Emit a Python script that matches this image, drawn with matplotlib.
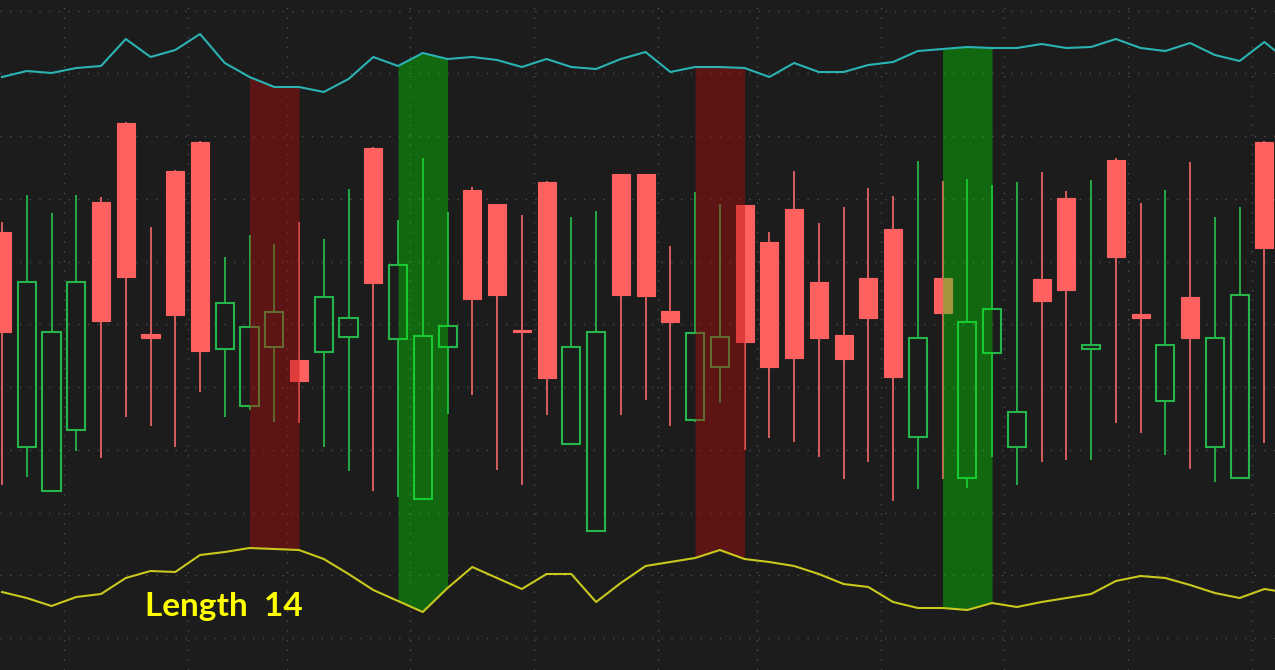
import numpy as np
import matplotlib
matplotlib.use("Agg")
import matplotlib.pyplot as plt

# candle data (price units), one entry per bar
opens = [438, 223, 179, 240, 468, 547, 336, 499, 528, 321, 264, 323, 310, 318, 333, 522, 331, 171,
         323, 480, 466, 340, 488, 226, 139, 496, 496, 359, 250, 303, 465, 428, 461, 388, 335, 392,
         441, 233, 392, 192, 317, 223, 391, 472, 321, 510, 356, 269, 373, 223, 192, 528]
highs = [448, 475, 457, 475, 473, 548, 443, 500, 529, 413, 435, 426, 448, 431, 481, 523, 450, 512,
         458, 483, 466, 455, 489, 453, 459, 496, 496, 424, 478, 466, 465, 438, 499, 447, 463, 482,
         474, 509, 489, 491, 485, 488, 498, 479, 490, 512, 467, 480, 508, 453, 463, 529]
lows = [185, 193, 178, 219, 212, 253, 244, 223, 278, 253, 260, 248, 247, 223, 199, 179, 173, 171,
        256, 275, 200, 185, 255, 226, 139, 255, 270, 244, 248, 267, 220, 232, 228, 213, 191, 208,
        169, 181, 191, 182, 213, 185, 208, 210, 210, 247, 237, 215, 201, 188, 192, 227]
closes = [338, 388, 338, 388, 349, 393, 332, 355, 319, 367, 343, 358, 289, 373, 352, 387, 405, 334,
          344, 371, 375, 338, 292, 323, 338, 375, 374, 348, 337, 333, 328, 303, 312, 332, 311, 352,
          293, 332, 357, 348, 361, 258, 369, 380, 325, 413, 352, 325, 332, 332, 375, 422]

# channel lines (one extra bar past the right edge)
upper_band = [593, 599, 597, 602, 604, 631, 613, 620, 636, 607, 593, 583, 583, 578, 591, 613, 604, 617,
              611, 613, 610, 603, 611, 603, 601, 611, 618, 598, 603, 603, 602, 593, 607, 598, 598, 605,
              608, 619, 621, 623, 622, 622, 626, 622, 623, 631, 622, 619, 627, 615, 609, 628, 608]
lower_band = [78, 72, 64, 73, 76, 92, 99, 98, 115, 118, 122, 121, 120, 111, 96, 80, 69, 58,
              82, 103, 92, 81, 96, 96, 68, 87, 104, 108, 112, 120, 111, 108, 104, 96, 86, 83,
              68, 62, 62, 60, 67, 63, 68, 72, 76, 89, 94, 92, 85, 77, 72, 81, 77]

# signal zones: first bar and direction, each covering two bars
signal_start = [10, 16, 28, 38]
signal_side = ['bear', 'bull', 'bear', 'bull']

# week separators (between bars)
week_breaks = [2.5, 7.5, 11.5, 16.5, 21.5, 26.5, 30.5, 35.5, 40.5, 45.5, 50.5]

label = "Length  14"

BG = '#1c1c1c'
RED = '#ff6161'
RED_WICK = '#e66262'
GREEN = '#25b54a'

fig = plt.figure(figsize=(12.75, 6.7), dpi=100, facecolor=BG)
ax = fig.add_axes([0, 0, 1, 1])
ax.set_facecolor(BG)

o = np.array(opens, float)
h = np.array(highs, float)
l = np.array(lows, float)
c = np.array(closes, float)
x = np.arange(len(o))
up = c >= o
top = np.maximum(o, c)
bot = np.minimum(o, c)
w = 0.73

# wicks
ax.vlines(x[~up], l[~up], h[~up], color=RED_WICK, linewidth=1.3, zorder=2)
ax.vlines(x[up], top[up], h[up], color=GREEN, linewidth=1.3, zorder=2)
ax.vlines(x[up], l[up], bot[up], color=GREEN, linewidth=1.3, zorder=2)

# bodies: red filled, green hollow
ax.bar(x[~up], (top - bot)[~up], bottom=bot[~up], width=w, color=RED,
       edgecolor=RED, linewidth=0.8, zorder=3)
ax.bar(x[up], np.maximum((top - bot)[up], 3), bottom=bot[up], width=w, facecolor='none',
       edgecolor=GREEN, linewidth=1.5, zorder=3)

# channel lines
xl = np.arange(len(upper_band))
ub = np.array(upper_band, float)
lb = np.array(lower_band, float)

# signal zones between the channel lines
for s, side in zip(signal_start, signal_side):
    seg = slice(s, s + 3)
    if side == 'bull':
        ax.fill_between(xl[seg], lb[seg], ub[seg], color='#00f000', alpha=0.36,
                        linewidth=0, zorder=4)
    else:
        ax.fill_between(xl[seg], lb[seg], ub[seg], color='#b50909', alpha=0.42,
                        linewidth=0, zorder=4)

ax.plot(xl, ub, color='#2bb3b3', linewidth=1.5, zorder=5)
ax.plot(xl, lb, color='#c8c81e', linewidth=1.5, zorder=5)

# dotted grid
ax.set_xticks(week_breaks)
ax.set_yticks(np.arange(32, 670, 62.75))
ax.grid(True, color='#4e4e4e', linestyle=(0, (1, 6)), linewidth=1.0)
ax.set_axisbelow(True)
ax.tick_params(left=False, bottom=False, labelleft=False, labelbottom=False)
for sp in ax.spines.values():
    sp.set_visible(False)

ax.set_xlim(-0.081, 51.43)
ax.set_ylim(0, 670)

ax.text(0.1137, 0.095, label, transform=ax.transAxes, ha='left', va='center',
        color='#ffff00', fontsize=24, fontweight='bold', family=['Lato', 'DejaVu Sans'],
        zorder=6)

fig.savefig('out.png', dpi=100, facecolor=BG)
